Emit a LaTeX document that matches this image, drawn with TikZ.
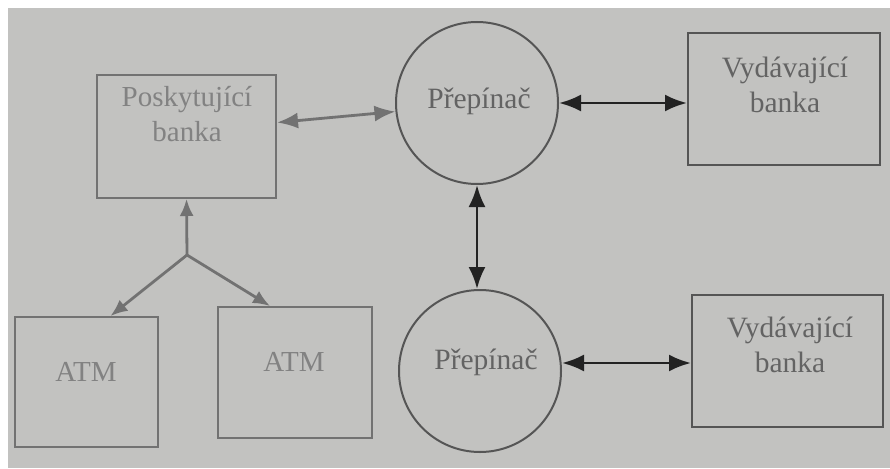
\documentclass[tikz,border=0pt]{standalone}
\usepackage{fontspec}
\setmainfont{Liberation Serif}
\usetikzlibrary{arrows.meta}
\definecolor{bg}{HTML}{C2C2C0}
\definecolor{lightln}{HTML}{727272}
\definecolor{lighttx}{HTML}{828282}
\definecolor{darkln}{HTML}{555555}
\definecolor{darktx}{HTML}{636363}
\definecolor{arrowdk}{HTML}{222222}
\tikzset{
  lbox/.style={draw=lightln, line width=2pt, rectangle, inner sep=0pt},
  rbox/.style={draw=darkln, line width=2pt, rectangle, inner sep=0pt},
  sw/.style={draw=darkln, line width=2pt, circle, minimum size=162pt, inner sep=0pt},
  ltext/.style={text=lighttx, font=\fontsize{29}{35}\selectfont, align=center, inner sep=0pt},
  rtext/.style={text=darktx, font=\fontsize{29.5}{35}\selectfont, align=center, inner sep=0pt},
  larrow/.style={draw=lightln, line width=2.8pt, -{Latex[length=17pt,width=14pt]}},
  darrow/.style={draw=arrowdk, line width=2.8pt, {Latex[length=22pt,width=17pt]}-{Latex[length=22pt,width=17pt]}},
  garrow/.style={draw=lightln, line width=2.8pt, {Latex[length=21pt,width=16pt]}-{Latex[length=21pt,width=16pt]}}
}
\begin{document}
\begin{tikzpicture}[x=1pt,y=-1pt]
\useasboundingbox (0,0) rectangle (890,468);
\fill[white] (0,0) rectangle (890,468);
\fill[bg] (8,8) rectangle (890,468);

% nodes
\node[lbox, minimum width=179pt, minimum height=123pt] (pb) at (186.5,136.5) {};
\node[ltext] (pbt) at (187,114) {Poskytující\\banka};

\node[sw] (s1) at (477,103) {};
\node[rtext] (s1t) at (479,101) {Přepínač};
\node[sw] (s2) at (480,371) {};
\node[rtext] (s2t) at (486,362) {Přepínač};

\node[rbox, minimum width=192pt, minimum height=132pt] (v1) at (784,99) {};
\node[rtext] (v1t) at (785,85) {Vydávající\\banka};
\node[rbox, minimum width=191pt, minimum height=132pt] (v2) at (787.5,361) {};
\node[rtext] (v2t) at (790,345) {Vydávající\\banka};

\node[lbox, minimum width=143pt, minimum height=130pt] (a1) at (86.5,382) {};
\node[ltext] (a1t) at (86,372) {ATM};
\node[lbox, minimum width=154pt, minimum height=131pt] (a2) at (295,372.5) {};
\node[ltext] (a2t) at (294,362) {ATM};

\coordinate (j) at (187,255);

% connectors
\draw[larrow] (j) -- (pb.south);
\draw[larrow] (j) -- ([xshift=24pt]a1.north);
\draw[larrow] (j) -- ([xshift=-25pt]a2.north);
\draw[garrow] ([yshift=14pt]pb.east) -- (s1.186);
\draw[darrow] (s1.east) -- (s1.east -| v1.west);
\draw[darrow] (s1.south) -- (s1.south |- s2.north);
\draw[darrow] ([yshift=8pt]s2.east) -- ([yshift=8pt]s2.east -| v2.west);
\end{tikzpicture}
\end{document}
